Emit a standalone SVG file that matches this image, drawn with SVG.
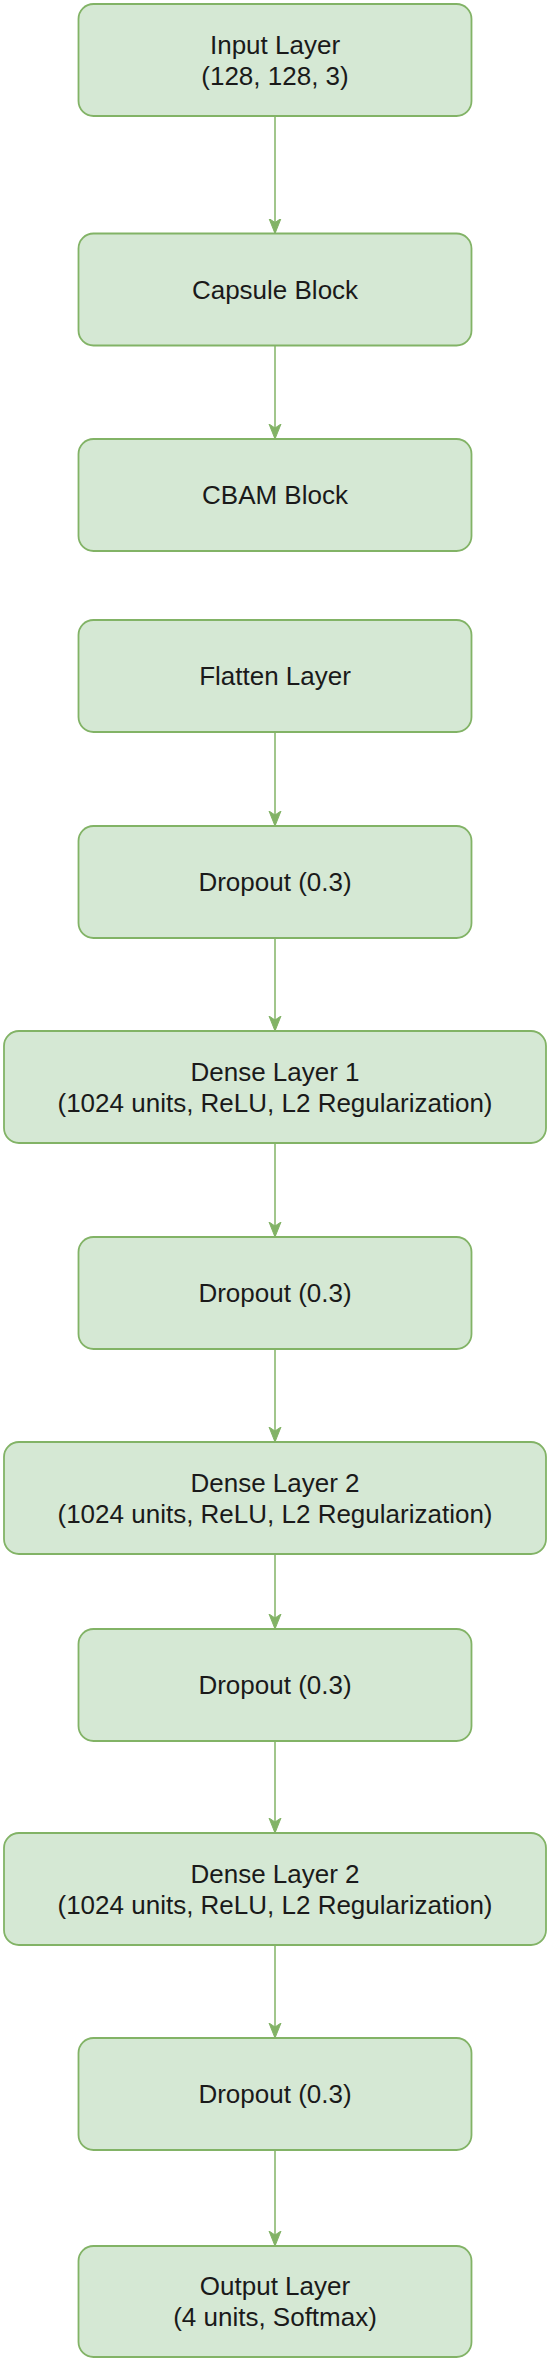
<svg xmlns="http://www.w3.org/2000/svg" width="549" height="2362" viewBox="0 0 549 2362">
<style>
.box{fill:#d5e8d4;stroke:#82b366;stroke-width:1.8}
.lbl{font-family:"Liberation Sans",Arial,Helvetica,sans-serif;font-size:26px;fill:#1a1a1a;text-anchor:middle}
.edge{stroke:#82b366;stroke-width:1.5;fill:none;marker-end:url(#arr)}
</style>
<defs>
<marker id="arr" markerUnits="userSpaceOnUse" markerWidth="16" markerHeight="14" refX="15" refY="7" orient="auto">
<path d="M0,1 L15,7 L0,13 L4,7 Z" fill="#82b366" stroke="#82b366" stroke-width="1"/>
</marker>
</defs>
<rect width="549" height="2362" fill="#ffffff"/>
<g id="connectors">
<line class="edge" x1="275" y1="116" x2="275" y2="233.5"/>
<line class="edge" x1="275" y1="345.5" x2="275" y2="439"/>
<line class="edge" x1="275" y1="732" x2="275" y2="826"/>
<line class="edge" x1="275" y1="938" x2="275" y2="1031"/>
<line class="edge" x1="275" y1="1143" x2="275" y2="1237"/>
<line class="edge" x1="275" y1="1349" x2="275" y2="1442"/>
<line class="edge" x1="275" y1="1554" x2="275" y2="1629"/>
<line class="edge" x1="275" y1="1741" x2="275" y2="1833"/>
<line class="edge" x1="275" y1="1945" x2="275" y2="2038"/>
<line class="edge" x1="275" y1="2150" x2="275" y2="2246"/>
</g>
<g id="input">
<rect class="box" x="78.5" y="4" width="393" height="112" rx="15"/>
<text class="lbl" x="275" y="53.5">Input Layer</text>
<text class="lbl" x="275" y="84.5">(128, 128, 3)</text>
</g>
<g id="capsule">
<rect class="box" x="78.5" y="233.5" width="393" height="112" rx="15"/>
<text class="lbl" x="275" y="298.5">Capsule Block</text>
</g>
<g id="cbam">
<rect class="box" x="78.5" y="439" width="393" height="112" rx="15"/>
<text class="lbl" x="275" y="504">CBAM Block</text>
</g>
<g id="flatten">
<rect class="box" x="78.5" y="620" width="393" height="112" rx="15"/>
<text class="lbl" x="275" y="685">Flatten Layer</text>
</g>
<g id="dropout1">
<rect class="box" x="78.5" y="826" width="393" height="112" rx="15"/>
<text class="lbl" x="275" y="891">Dropout (0.3)</text>
</g>
<g id="dense1">
<rect class="box" x="4" y="1031" width="542" height="112" rx="15"/>
<text class="lbl" x="275" y="1080.5">Dense Layer 1</text>
<text class="lbl" x="275" y="1111.5">(1024 units, ReLU, L2 Regularization)</text>
</g>
<g id="dropout2">
<rect class="box" x="78.5" y="1237" width="393" height="112" rx="15"/>
<text class="lbl" x="275" y="1302">Dropout (0.3)</text>
</g>
<g id="dense2">
<rect class="box" x="4" y="1442" width="542" height="112" rx="15"/>
<text class="lbl" x="275" y="1491.5">Dense Layer 2</text>
<text class="lbl" x="275" y="1522.5">(1024 units, ReLU, L2 Regularization)</text>
</g>
<g id="dropout3">
<rect class="box" x="78.5" y="1629" width="393" height="112" rx="15"/>
<text class="lbl" x="275" y="1694">Dropout (0.3)</text>
</g>
<g id="dense3">
<rect class="box" x="4" y="1833" width="542" height="112" rx="15"/>
<text class="lbl" x="275" y="1882.5">Dense Layer 2</text>
<text class="lbl" x="275" y="1913.5">(1024 units, ReLU, L2 Regularization)</text>
</g>
<g id="dropout4">
<rect class="box" x="78.5" y="2038" width="393" height="112" rx="15"/>
<text class="lbl" x="275" y="2103">Dropout (0.3)</text>
</g>
<g id="output">
<rect class="box" x="78.5" y="2246" width="393" height="111" rx="15"/>
<text class="lbl" x="275" y="2295">Output Layer</text>
<text class="lbl" x="275" y="2326">(4 units, Softmax)</text>
</g>
</svg>
